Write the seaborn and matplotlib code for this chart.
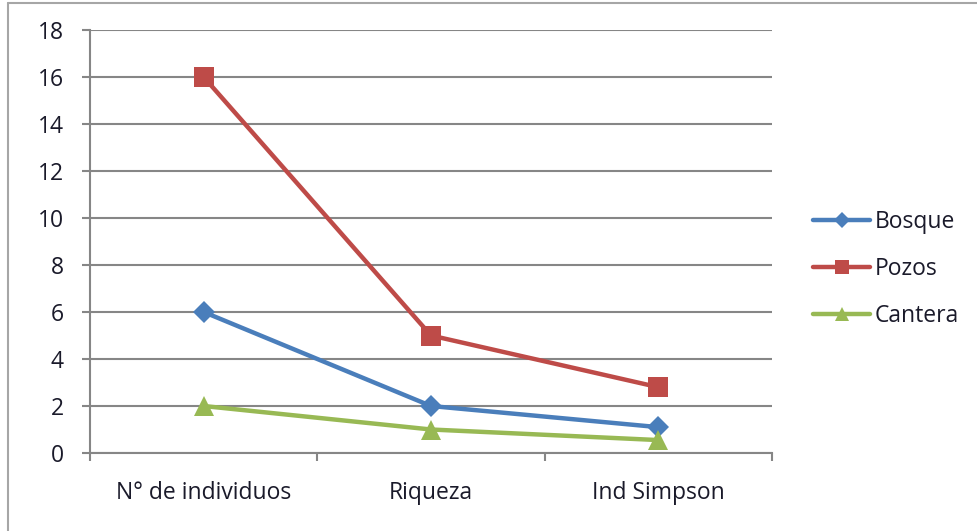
import matplotlib
matplotlib.use("Agg")
import matplotlib.pyplot as plt
import seaborn as sns
import pandas as pd
from matplotlib.lines import Line2D

categories = ["N° de individuos", "Riqueza", "Ind Simpson"]
bosque = [6, 2, 1.1]
pozos = [16, 5, 2.8]
cantera = [2, 1.0, 0.55]
series_names = ["Bosque", "Pozos", "Cantera"]
y_ticks = [0, 2, 4, 6, 8, 10, 12, 14, 16, 18]

rows = []
for name, vals in zip(series_names, [bosque, pozos, cantera]):
    for i, (c, v) in enumerate(zip(categories, vals)):
        rows.append({"pos": i, "Categoria": c, "Serie": name, "Valor": v})
df = pd.DataFrame(rows)

sns.set_theme(style="white")
plt.rcParams['font.family'] = ['Open Sans', 'DejaVu Sans']

colors = {"Bosque": "#4A7EBB", "Pozos": "#BE4B48", "Cantera": "#98B954"}
markers = {"Bosque": "D", "Pozos": "s", "Cantera": "^"}
msizes = {"Bosque": 11, "Pozos": 14, "Cantera": 14}
fs = 16.5
tcol = "#1a1a2a"

fig = plt.figure(figsize=(9.77, 5.31), dpi=100)
ax = fig.add_axes([90/977, 1-453/531, (772-90)/977, (453-30)/531])

sns.lineplot(data=df, x="pos", y="Valor", hue="Serie", style="Serie",
             palette=colors, markers=markers, dashes=False, sort=False,
             linewidth=3.2, markersize=13, markeredgewidth=0, ax=ax, legend=False)
for line, name in zip(ax.lines, series_names):
    line.set_markersize(msizes[name])

ax.set_xlim(-0.5, 2.5)
ax.set_ylim(0, 18)
ax.set_yticks(y_ticks)
ax.set_xticks(range(len(categories)))
ax.set_xticklabels(categories)
ax.set_xticks([-0.5, 0.5, 1.5, 2.5], minor=True)
ax.set_xlabel("")
ax.set_ylabel("")
ax.grid(axis="y", color="#868686", linewidth=1.5)
ax.set_axisbelow(True)
for s in ["top", "right"]:
    ax.spines[s].set_visible(False)
for s in ["left", "bottom"]:
    ax.spines[s].set_color("#868686")
    ax.spines[s].set_linewidth(1.5)
ax.tick_params(axis="y", which="major", length=6, width=1.5, color="#868686",
               direction="out", left=True, pad=13, labelsize=fs, labelcolor=tcol)
ax.tick_params(axis="x", which="major", length=0, pad=20, labelsize=fs, labelcolor=tcol)
ax.tick_params(axis="x", which="minor", length=6, width=1.5, color="#868686",
               direction="out", bottom=True)

handles = [Line2D([0], [0], color=colors[n], marker=markers[n], linewidth=3.2,
                  markersize=msizes[n] * 0.75, markeredgewidth=0) for n in series_names]
fig.legend(handles, series_names, loc="upper left", bbox_to_anchor=(813/977, 1-210/531),
           frameon=False, fontsize=fs, handlelength=2.5, handletextpad=0.18,
           labelspacing=1.0, borderaxespad=0, borderpad=0, labelcolor=tcol)

fig.add_artist(Line2D([8/977, 8/977], [0, 1-3/531], color="#a6a6a6", linewidth=1.5,
                      transform=fig.transFigure))
fig.add_artist(Line2D([8/977, 1], [1-3/531, 1-3/531], color="#a6a6a6", linewidth=1.5,
                      transform=fig.transFigure))

fig.savefig("out.png", dpi=100)
